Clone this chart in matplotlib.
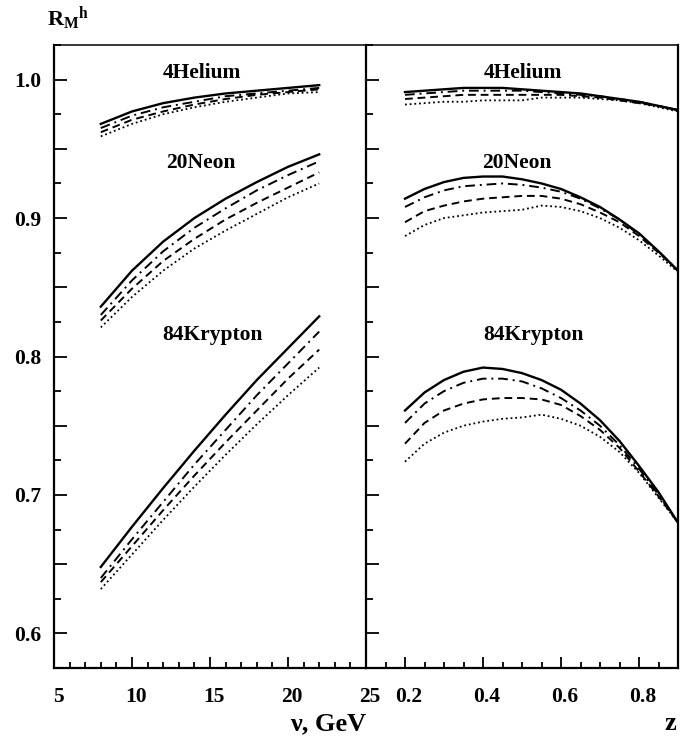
import numpy as np
import matplotlib
matplotlib.use('Agg')
import matplotlib.pyplot as plt
import matplotlib.ticker as mticker
import matplotlib.transforms as mtransforms

plt.rcParams['font.family'] = 'Liberation Serif'
plt.rcParams['font.weight'] = 'bold'
plt.rcParams['mathtext.fontset'] = 'custom'
plt.rcParams['mathtext.rm'] = 'Liberation Serif:bold'
plt.rcParams['mathtext.it'] = 'Liberation Serif:bold'
plt.rcParams['mathtext.bf'] = 'Liberation Serif:bold'

# left panel: R vs nu (GeV)
nu = [8, 10, 12, 14, 16, 18, 20, 22]
he_nu = {
    'solid':   [0.968, 0.977, 0.983, 0.987, 0.990, 0.992, 0.994, 0.996],
    'dashdot': [0.965, 0.974, 0.980, 0.984, 0.988, 0.990, 0.992, 0.994],
    'dashed':  [0.962, 0.971, 0.977, 0.982, 0.986, 0.989, 0.991, 0.993],
    'dotted':  [0.959, 0.968, 0.975, 0.980, 0.984, 0.987, 0.990, 0.991],
}
ne_nu = {
    'solid':   [0.836, 0.862, 0.883, 0.900, 0.914, 0.926, 0.937, 0.946],
    'dashdot': [0.830, 0.855, 0.876, 0.893, 0.907, 0.920, 0.931, 0.941],
    'dashed':  [0.826, 0.849, 0.869, 0.885, 0.899, 0.911, 0.922, 0.933],
    'dotted':  [0.821, 0.843, 0.862, 0.878, 0.891, 0.903, 0.915, 0.925],
}
kr_nu = {
    'solid':   [0.648, 0.677, 0.705, 0.732, 0.758, 0.783, 0.806, 0.829],
    'dashdot': [0.640, 0.668, 0.695, 0.722, 0.747, 0.772, 0.795, 0.818],
    'dashed':  [0.637, 0.663, 0.689, 0.714, 0.738, 0.761, 0.784, 0.805],
    'dotted':  [0.632, 0.657, 0.682, 0.706, 0.729, 0.751, 0.772, 0.792],
}

# right panel: R vs z
z = [0.2, 0.25, 0.3, 0.35, 0.4, 0.45, 0.5, 0.55, 0.6, 0.65, 0.7, 0.75, 0.8, 0.85, 0.9]
he_z = {
    'solid':   [0.991, 0.992, 0.993, 0.994, 0.994, 0.994, 0.993, 0.992, 0.991, 0.990, 0.988, 0.986, 0.984, 0.981, 0.978],
    'dashdot': [0.989, 0.990, 0.991, 0.992, 0.992, 0.992, 0.992, 0.991, 0.990, 0.989, 0.988, 0.986, 0.984, 0.981, 0.978],
    'dashed':  [0.986, 0.987, 0.988, 0.989, 0.989, 0.989, 0.989, 0.989, 0.989, 0.988, 0.987, 0.985, 0.983, 0.981, 0.978],
    'dotted':  [0.982, 0.983, 0.984, 0.984, 0.985, 0.985, 0.985, 0.987, 0.987, 0.987, 0.986, 0.985, 0.983, 0.980, 0.977],
}
ne_z = {
    'solid':   [0.914, 0.921, 0.926, 0.929, 0.930, 0.930, 0.928, 0.925, 0.921, 0.915, 0.908, 0.899, 0.889, 0.876, 0.862],
    'dashdot': [0.908, 0.915, 0.920, 0.923, 0.924, 0.925, 0.924, 0.922, 0.919, 0.914, 0.907, 0.899, 0.888, 0.876, 0.862],
    'dashed':  [0.897, 0.905, 0.909, 0.912, 0.914, 0.915, 0.916, 0.916, 0.914, 0.910, 0.904, 0.897, 0.887, 0.875, 0.862],
    'dotted':  [0.887, 0.895, 0.900, 0.902, 0.904, 0.905, 0.906, 0.909, 0.908, 0.905, 0.900, 0.893, 0.884, 0.873, 0.861],
}
kr_z = {
    'solid':   [0.761, 0.774, 0.783, 0.789, 0.792, 0.791, 0.788, 0.783, 0.776, 0.766, 0.754, 0.739, 0.721, 0.702, 0.680],
    'dashdot': [0.752, 0.766, 0.775, 0.781, 0.784, 0.784, 0.782, 0.777, 0.770, 0.761, 0.750, 0.736, 0.719, 0.700, 0.680],
    'dashed':  [0.737, 0.752, 0.761, 0.766, 0.769, 0.770, 0.770, 0.769, 0.765, 0.757, 0.747, 0.734, 0.717, 0.699, 0.680],
    'dotted':  [0.724, 0.737, 0.745, 0.750, 0.753, 0.755, 0.756, 0.758, 0.755, 0.750, 0.742, 0.731, 0.716, 0.698, 0.680],
}

nuclei = ['4Helium', '20Neon', '84Krypton']

styles = {
    'solid':   dict(linestyle='-', linewidth=1.7),
    'dashdot': dict(linestyle=(0, (5, 2.5, 1, 2.5)), linewidth=1.4),
    'dashed':  dict(linestyle=(0, (4, 2.5)), linewidth=1.4),
    'dotted':  dict(linestyle=(0, (1, 1.6)), linewidth=1.3),
}

fig = plt.figure(figsize=(6.89, 7.42), dpi=100)
W, H = 689, 742
ax1 = fig.add_axes([54 / W, (H - 668) / H, 312 / W, 623 / H])
ax2 = fig.add_axes([366 / W, (H - 668) / H, 312 / W, 623 / H])

for ax, xs, sets in [(ax1, nu, [he_nu, ne_nu, kr_nu]), (ax2, z, [he_z, ne_z, kr_z])]:
    for d in sets:
        for key in ['solid', 'dashdot', 'dashed', 'dotted']:
            ax.plot(xs, d[key], color='black', **styles[key])

# nucleus labels
lab_y = [1.005, 0.940, 0.8156]
lab_x1 = [14.5, 14.4, 15.15]
lab_x2 = [0.503, 0.488, 0.529]
for name, y, xa, xb in zip(nuclei, lab_y, lab_x1, lab_x2):
    ax1.text(xa, y, name, ha='center', va='center', fontsize=15.5, fontweight='bold')
    ax2.text(xb, y, name, ha='center', va='center', fontsize=15.5, fontweight='bold')

ax1.set_xlim(5, 25)
ax2.set_xlim(0.1, 0.9)
for ax in (ax1, ax2):
    ax.set_ylim(0.575, 1.025)
    ax.yaxis.set_major_locator(mticker.MultipleLocator(0.05))
    ax.yaxis.set_minor_locator(mticker.MultipleLocator(0.025))
    for s in ax.spines.values():
        s.set_linewidth(1.6)
    ax.spines['top'].set_linewidth(1.1)
    ax.tick_params(which='both', direction='in', top=False, right=False, width=1.3)
    ax.tick_params(axis='y', which='major', length=9)
    ax.tick_params(axis='y', which='minor', length=5)
    ax.tick_params(axis='x', which='major', length=8, pad=14, labelsize=15.5)
    ax.tick_params(axis='x', which='minor', length=4)

ax1.xaxis.set_major_locator(mticker.MultipleLocator(5))
ax1.xaxis.set_minor_locator(mticker.MultipleLocator(1))
ax1.xaxis.set_major_formatter(mticker.FuncFormatter(lambda v, p: '%d' % round(v)))
ax2.xaxis.set_major_locator(mticker.FixedLocator([0.2, 0.4, 0.6, 0.8]))
ax2.xaxis.set_minor_locator(mticker.MultipleLocator(0.05))
ax2.xaxis.set_major_formatter(mticker.FuncFormatter(lambda v, p: '%.1f' % v))

ax1.yaxis.set_major_formatter(mticker.FuncFormatter(
    lambda v, p: '%.1f' % v if abs(v * 10 - round(v * 10)) < 1e-6 else ''))
ax1.tick_params(axis='y', which='major', pad=9, labelsize=15.5)
ax2.tick_params(axis='y', labelleft=False)
ax1.spines['right'].set_visible(False)

# shift x tick labels slightly right, as in the original
shift = mtransforms.ScaledTranslation(4 / 100, 0, fig.dpi_scale_trans)
for ax in (ax1, ax2):
    for lbl in ax.get_xticklabels():
        lbl.set_transform(lbl.get_transform() + shift)
ax1.get_xticklabels()[-1].set_horizontalalignment('right')

fig.text(366 / W, (H - 724) / H, 'ν, GeV', ha='right', va='center', fontsize=19, fontweight='bold')
fig.text(676 / W, (H - 724) / H, 'z', ha='right', va='center', fontsize=19, fontweight='bold')
fig.text(47 / W, (H - 25) / H, r'$R_{M}{}^{h}$', ha='left', va='baseline', fontsize=16)

fig.savefig('out.png', dpi=100)
